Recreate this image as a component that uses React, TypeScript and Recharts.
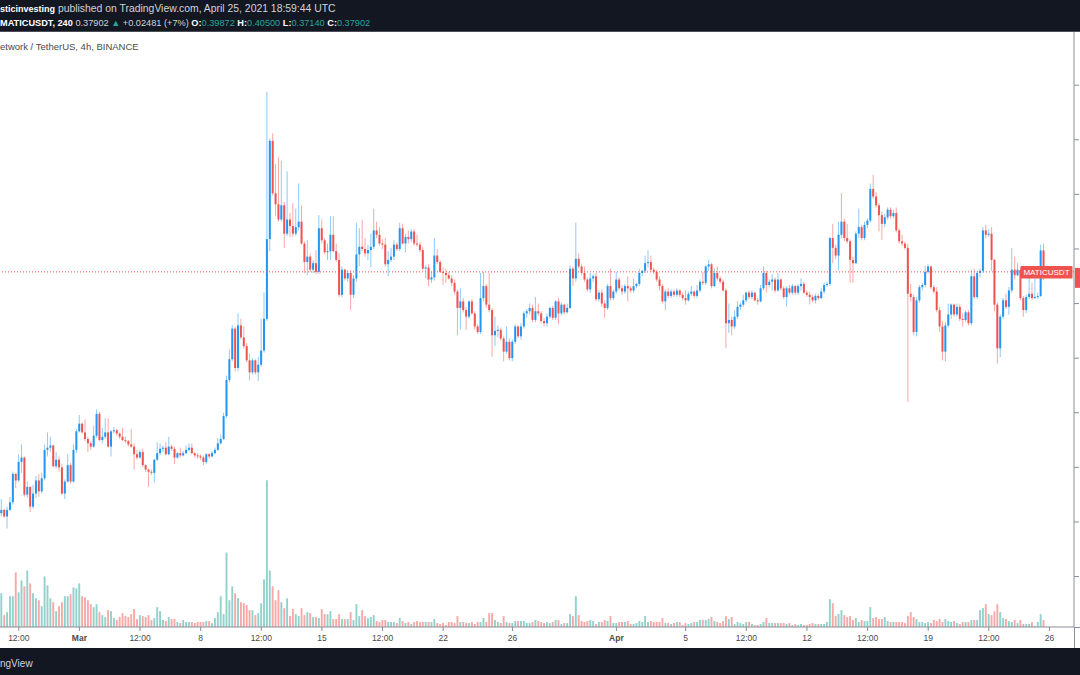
import React from 'react';
import { ComposedChart, Bar, XAxis, YAxis, ReferenceLine } from 'recharts';

// MATICUSDT 4h candles, Feb 24 12:00 -> Apr 25 16:00
const OPEN = [
  .158,.161,.155,.161,.168,.194,.188,.205,.209,.175,
  .182,.164,.176,.188,.178,.190,.216,.218,.220,.201,
  .207,.200,.176,.187,.202,.187,.216,.233,.240,.232,
  .226,.222,.219,.229,.249,.225,.228,.232,.219,.233,
  .234,.231,.228,.225,.224,.221,.219,.212,.209,.214,
  .202,.198,.196,.195,.207,.213,.217,.218,.212,.219,
  .217,.209,.213,.211,.213,.216,.218,.213,.211,.210,
  .209,.205,.212,.210,.213,.216,.222,.226,.247,.280,
  .299,.327,.291,.330,.319,.311,.298,.287,.298,.287,
  .294,.307,.336,.409,.499,.451,.441,.427,.440,.414,
  .427,.421,.414,.420,.425,.405,.388,.393,.381,.387,
  .379,.419,.408,.397,.398,.413,.398,.390,.358,.381,
  .373,.378,.358,.373,.395,.402,.400,.396,.399,.402,
  .417,.413,.405,.404,.386,.390,.393,.404,.400,.419,
  .405,.411,.409,.416,.405,.404,.399,.382,.383,.372,
  .374,.394,.388,.379,.378,.376,.373,.369,.361,.346,
  .352,.344,.338,.352,.341,.329,.324,.355,.366,.349,
  .344,.321,.325,.326,.318,.306,.315,.300,.315,.329,
  .320,.329,.341,.343,.346,.335,.343,.341,.334,.332,
  .338,.346,.337,.352,.341,.349,.342,.346,.382,.373,
  .391,.384,.378,.372,.363,.373,.375,.354,.360,.350,
  .346,.366,.355,.361,.372,.364,.361,.366,.364,.362,
  .366,.368,.378,.380,.387,.388,.381,.379,.372,.366,
  .352,.361,.357,.361,.358,.362,.358,.355,.353,.359,
  .361,.357,.362,.370,.369,.384,.386,.366,.378,.373,
  .370,.362,.332,.335,.329,.338,.347,.349,.353,.360,
  .356,.360,.353,.352,.364,.378,.367,.370,.372,.362,
  .372,.364,.356,.364,.360,.366,.360,.366,.368,.360,
  .358,.356,.353,.357,.355,.361,.367,.368,.410,.401,
  .394,.413,.425,.410,.407,.390,.387,.414,.420,.410,
  .422,.426,.455,.448,.440,.431,.423,.429,.436,.430,
  .433,.417,.407,.405,.401,.359,.356,.324,.353,.365,
  .367,.379,.384,.365,.361,.344,.329,.306,.330,.340,
  .349,.340,.347,.336,.335,.342,.332,.375,.356,.378,
  .380,.417,.413,.414,.390,.349,.309,.338,.353,.347,
  .362,.381,.376,.381,.355,.344,.356,.359,.355,.356,
  .357,.39872,
];
const HIGH = [
  .171,.162,.164,.173,.196,.195,.212,.221,.210,.187,
  .183,.184,.192,.194,.195,.221,.232,.228,.221,.214,
  .210,.203,.189,.212,.204,.221,.235,.248,.241,.244,
  .228,.224,.238,.253,.251,.236,.245,.245,.234,.237,
  .235,.232,.236,.228,.225,.235,.222,.216,.216,.217,
  .203,.199,.198,.208,.223,.222,.220,.223,.228,.221,
  .219,.214,.218,.215,.220,.222,.222,.214,.213,.212,
  .211,.213,.213,.215,.218,.227,.230,.250,.284,.308,
  .330,.329,.341,.336,.329,.314,.304,.300,.299,.301,
  .336,.360,.544,.501,.506,.478,.484,.481,.443,.471,
  .433,.442,.437,.460,.440,.407,.408,.396,.390,.399,
  .431,.427,.410,.405,.430,.430,.405,.396,.384,.382,
  .381,.381,.376,.424,.419,.427,.410,.404,.414,.437,
  .425,.420,.409,.410,.398,.401,.408,.406,.424,.423,
  .414,.417,.418,.418,.413,.406,.402,.385,.386,.379,
  .410,.400,.390,.383,.382,.379,.376,.372,.363,.364,
  .355,.347,.353,.354,.343,.331,.378,.379,.368,.378,
  .346,.338,.330,.328,.320,.329,.318,.317,.331,.330,
  .332,.343,.345,.350,.349,.356,.350,.343,.337,.341,
  .347,.348,.353,.355,.351,.350,.350,.385,.384,.424,
  .396,.386,.384,.374,.378,.377,.378,.362,.363,.353,
  .368,.382,.363,.379,.374,.367,.368,.375,.366,.373,
  .369,.382,.381,.394,.399,.394,.383,.381,.375,.368,
  .363,.364,.363,.363,.364,.363,.360,.362,.361,.366,
  .362,.367,.372,.379,.385,.390,.387,.382,.384,.375,
  .372,.364,.350,.338,.344,.352,.351,.358,.361,.362,
  .362,.361,.355,.367,.384,.380,.372,.377,.374,.378,
  .373,.366,.366,.367,.368,.367,.368,.373,.370,.362,
  .361,.358,.359,.359,.364,.369,.370,.411,.423,.404,
  .425,.451,.428,.423,.409,.393,.416,.437,.422,.425,
  .428,.460,.468,.452,.442,.434,.432,.438,.438,.436,
  .438,.419,.413,.407,.405,.368,.358,.356,.367,.369,
  .385,.386,.385,.367,.365,.347,.334,.333,.350,.350,
  .350,.350,.350,.341,.344,.344,.381,.382,.380,.382,
  .420,.422,.418,.420,.391,.351,.340,.355,.359,.365,
  .401,.393,.387,.383,.357,.358,.378,.369,.378,.360,
  .404,.405,
];
const LOW = [
  .155,.154,.144,.160,.166,.181,.187,.195,.173,.172,
  .159,.162,.172,.173,.176,.188,.210,.214,.200,.199,
  .196,.175,.171,.186,.185,.186,.213,.232,.231,.224,
  .214,.216,.218,.227,.224,.222,.226,.218,.210,.231,
  .229,.226,.224,.222,.219,.218,.198,.207,.208,.200,
  .196,.182,.193,.186,.206,.211,.214,.211,.211,.215,
  .203,.208,.209,.210,.212,.215,.212,.209,.208,.207,
  .202,.203,.208,.209,.212,.215,.221,.225,.245,.278,
  .297,.288,.288,.317,.309,.296,.280,.285,.285,.279,
  .292,.305,.334,.398,.449,.430,.425,.425,.401,.412,
  .411,.411,.412,.417,.404,.378,.376,.379,.378,.377,
  .377,.405,.395,.390,.390,.397,.388,.356,.356,.371,
  .370,.344,.355,.370,.384,.398,.393,.390,.383,.400,
  .410,.403,.400,.384,.375,.388,.390,.398,.398,.404,
  .397,.405,.406,.403,.402,.397,.380,.373,.366,.369,
  .371,.386,.378,.367,.369,.372,.366,.358,.321,.326,
  .342,.326,.336,.340,.326,.322,.322,.352,.346,.342,
  .301,.311,.319,.316,.297,.304,.298,.297,.313,.318,
  .317,.327,.337,.340,.333,.333,.339,.332,.329,.329,
  .336,.335,.335,.331,.339,.340,.341,.345,.366,.370,
  .382,.376,.370,.361,.360,.370,.352,.352,.347,.337,
  .344,.353,.353,.359,.362,.358,.359,.352,.360,.360,
  .364,.366,.375,.378,.383,.379,.377,.370,.362,.350,
  .344,.355,.355,.356,.356,.356,.353,.349,.352,.357,
  .355,.355,.360,.367,.367,.380,.364,.365,.371,.368,
  .361,.309,.323,.321,.327,.336,.344,.347,.351,.354,
  .354,.352,.349,.351,.362,.360,.365,.362,.360,.361,
  .362,.354,.347,.358,.358,.358,.358,.362,.359,.356,
  .349,.351,.350,.353,.354,.359,.365,.366,.387,.391,
  .381,.410,.407,.405,.369,.369,.386,.410,.408,.408,
  .419,.424,.446,.438,.416,.408,.420,.427,.428,.428,
  .415,.405,.403,.399,.260,.352,.321,.320,.351,.362,
  .365,.377,.363,.359,.342,.324,.298,.297,.328,.336,
  .338,.338,.334,.329,.333,.330,.330,.354,.354,.374,
  .378,.410,.411,.380,.343,.295,.301,.336,.345,.340,
  .360,.372,.375,.353,.338,.341,.354,.353,.354,.354,
  .356,.3714,
];
const CLOSE = [
  .161,.155,.161,.168,.194,.188,.205,.209,.175,.182,
  .164,.176,.188,.178,.190,.216,.218,.220,.201,.207,
  .200,.176,.187,.202,.187,.216,.233,.240,.232,.226,
  .222,.219,.229,.249,.225,.228,.232,.219,.233,.234,
  .231,.228,.225,.224,.221,.219,.212,.209,.214,.202,
  .198,.196,.195,.207,.213,.217,.218,.212,.219,.217,
  .209,.213,.211,.213,.216,.218,.213,.211,.210,.209,
  .205,.212,.210,.213,.216,.222,.226,.247,.280,.299,
  .327,.291,.330,.319,.311,.298,.287,.298,.287,.294,
  .307,.336,.409,.499,.451,.441,.427,.440,.414,.427,
  .421,.414,.420,.425,.405,.388,.393,.381,.387,.379,
  .419,.408,.397,.398,.413,.398,.390,.358,.381,.373,
  .378,.358,.373,.395,.402,.400,.396,.399,.402,.417,
  .413,.405,.404,.386,.390,.393,.404,.400,.419,.405,
  .411,.409,.416,.405,.404,.399,.382,.383,.372,.374,
  .394,.388,.379,.378,.376,.373,.369,.361,.346,.352,
  .344,.338,.352,.341,.329,.324,.355,.366,.349,.344,
  .321,.325,.326,.318,.306,.315,.300,.315,.329,.320,
  .329,.341,.343,.346,.335,.343,.341,.334,.332,.338,
  .346,.337,.352,.341,.349,.342,.346,.382,.373,.391,
  .384,.378,.372,.363,.373,.375,.354,.360,.350,.346,
  .366,.355,.361,.372,.364,.361,.366,.364,.362,.366,
  .368,.378,.380,.387,.388,.381,.379,.372,.366,.352,
  .361,.357,.361,.358,.362,.358,.355,.353,.359,.361,
  .357,.362,.370,.369,.384,.386,.366,.378,.373,.370,
  .362,.332,.335,.329,.338,.347,.349,.353,.360,.356,
  .360,.353,.352,.364,.378,.367,.370,.372,.362,.372,
  .364,.356,.364,.360,.366,.360,.366,.368,.360,.358,
  .356,.353,.357,.355,.361,.367,.368,.410,.401,.394,
  .413,.425,.410,.407,.390,.387,.414,.420,.410,.422,
  .426,.455,.448,.440,.431,.423,.429,.436,.430,.433,
  .417,.407,.405,.401,.359,.356,.324,.353,.365,.367,
  .379,.384,.365,.361,.344,.329,.306,.330,.340,.349,
  .340,.347,.336,.335,.342,.332,.375,.356,.378,.380,
  .417,.413,.414,.390,.349,.309,.338,.353,.347,.362,
  .381,.376,.381,.355,.344,.356,.359,.355,.356,.357,
  .39872,.37902,
];
// volume, millions of MATIC
const VOLUME = [
  34,12,15,31,31,55,35,47,41,57, 44,34,29,27,21,51,42,29,25,16,
  21,25,31,31,33,40,39,44,31,30, 27,23,20,23,15,12,10,17,16,9,
  7,10,14,11,10,13,18,8,12,11, 10,12,7,9,20,16,7,6,10,8,
  8,5,4,7,5,5,5,4,5,5, 5,6,6,4,9,15,31,13,75,27,
  41,34,29,25,24,22,17,17,12,14, 24,48,148,57,41,27,37,25,19,29,
  11,18,13,11,19,12,15,14,10,10, 9,18,13,13,16,8,8,13,8,8,
  8,15,7,23,
  11,17,11,9,10,12,6,5,7,7, 5,5,5,4,9,6,4,5,3,5,
  6,5,5,5,5,5,8,4,3,4, 2,5,5,4,11,5,5,4,4,5,
  3,5,5,9,5,14,14,7,5,4, 11,5,4,4,6,6,6,6,4,4,
  5,7,6,5,4,5,4,5,7,7, 3,4,4,13,11,31,12,6,5,6,
  7,6,3,5,5,7,6,11,4,4, 5,5,5,6,3,3,4,6,5,11,
  5,6,5,5,5,9,4,4,3,4, 5,5,2,4,3,4,5,5,7,7,
  7,8,10,6,5,
  4,6,11,8,10,3,5,4,3,5, 5,3,2,2,3,5,9,4,4,4,
  4,4,4,3,4,2,3,2,3,2, 2,3,4,3,3,3,3,5,28,24,
  11,13,17,12,10,11,7,9,5,7, 6,6,20,9,10,8,8,10,6,5,
  5,5,5,5,4,11,15,10,8,5, 5,4,5,4,7,6,8,5,8,6,
  5,6,4,3,5,5,5,7,7,7, 17,19,23,13,12,16,23,15,9,8,
  6,5,7,4,7,3,3,3,5,1, 5,13,7,
];

const TICK_INDEX = [6, 27, 48, 69, 90, 111, 132, 153, 177, 213, 237, 258, 279, 300, 321, 342, 363];
const TICK_TEXT = ['12:00', 'Mar', '12:00', '8', '12:00', '15', '12:00', '22', '26', 'Apr', '5', '12:00', '12', '12:00', '19', '12:00', '26'];
const MONTHS = ['Mar', 'Apr'];
const PRICE_TICKS = [0.1, 0.15, 0.2, 0.25, 0.3, 0.35, 0.4, 0.45, 0.5, 0.55];
const LAST_PRICE = 0.37902;
const SYMBOL = 'MATICUSDT';
const EMPTY_SLOTS = 10; // blank space right of the last candle

const UP = '#2196f3';
const DOWN = '#ef5350';
const VOL_UP = '#26a69a';
const AXIS = '#8a8e97';
const FONT = '"Liberation Sans", Arial, sans-serif';

const N = Math.min(OPEN.length, HIGH.length, LOW.length, CLOSE.length, VOLUME.length);
const rows = Array.from({ length: N + EMPTY_SLOTS }, (_, i) =>
    i < N ? { i, o: OPEN[i], h: HIGH[i], l: LOW[i], c: CLOSE[i], v: VOLUME[i] } : { i } as any
);

const Candle = (props: any) => {
    const { x, y, width, height, payload } = props;
    if (!payload || payload.h == null || !isFinite(y)) return null;
    const { o, h, l, c } = payload;
    const top = Math.min(y, y + height);
    const span = Math.abs(height);
    const k = span / (h - l);
    const cx = x + width / 2;
    const bTop = top + (h - Math.max(o, c)) * k;
    const bBot = top + (h - Math.min(o, c)) * k;
    const color = c >= o ? UP : DOWN;
    return (
        <g>
            <line x1={cx} x2={cx} y1={top} y2={top + span} stroke={color} strokeOpacity={0.5} strokeWidth={1} />
            <rect x={cx - 1} y={bTop} width={2} height={Math.max(1, bBot - bTop)} fill={color} />
        </g>
    );
};

const VolumeBar = (props: any) => {
    const { x, y, width, height, payload } = props;
    if (!payload || payload.v == null || !isFinite(y)) return null;
    const up = payload.c >= payload.o;
    return (
        <rect x={x + width / 2 - 0.95} y={y} width={1.9} height={Math.max(0, height)}
            fill={up ? VOL_UP : DOWN} fillOpacity={0.5} />
    );
};

const DateTick = ({ x, y, payload }: any) => {
    const label = TICK_TEXT[TICK_INDEX.indexOf(payload.value)];
    return (
        <text x={x} y={y} dy={8} textAnchor="middle" fontSize={8.5} fontFamily={FONT}
            fontWeight={MONTHS.includes(label) ? 700 : 400} fill="#4a4a4a">
            {label}
        </text>
    );
};

// the price labels sit past the right edge of the snapshot, only the tick marks show
const NoLabel = () => <g />;

// "MATICUSDT" tag on the line plus the edge of the price box on the scale
const LastPriceTag = (props: any) => {
    const vb = props.viewBox || {};
    const right = vb.x + vb.width;
    const y = vb.y;
    return (
        <g>
            <rect x={right - 53.5} y={y - 6} width={52} height={12.5} fill={DOWN} rx={1} />
            <text x={right - 27.5} y={y + 3.2} textAnchor="middle" fontSize={8} fontFamily={FONT} fill="#fff">
                {SYMBOL}
            </text>
            <rect x={right + 1} y={y - 4} width={56} height={20} fill={DOWN} />
        </g>
    );
};

export default function App() {
    return (
        <div style={{ position: 'relative', width: 1080, height: 675, overflow: 'hidden', background: '#fff', fontFamily: FONT }}>
            <style>{'body{margin:0}'}</style>

            {/* header bar */}
            <div style={{ position: 'absolute', left: 0, top: 0, width: 1080, height: 32, background: '#131722', borderBottom: '1px solid #4a4e59', boxSizing: 'border-box' }}>
                <div style={{ position: 'absolute', left: 0, top: 3, fontSize: 10.4, lineHeight: '12px', color: '#d1d4dc', whiteSpace: 'nowrap' }}>
                    <b style={{ color: '#fff', fontSize: 9 }}>sticinvesting</b> published on TradingView.com, April 25, 2021 18:59:44 UTC
                </div>
                <div style={{ position: 'absolute', left: 0, top: 17, fontSize: 9.2, lineHeight: '12px', color: '#d1d4dc', whiteSpace: 'nowrap' }}>
                    <b style={{ color: '#fff' }}>MATICUSDT, 240</b>{' '}0.37902{' '}
                    <span style={{ color: VOL_UP }}>▲</span>{' '}+0.02481 (+7%){' '}
                    <b style={{ color: '#fff' }}>O:</b><span style={{ color: VOL_UP }}>0.39872</span>{' '}
                    <b style={{ color: '#fff' }}>H:</b><span style={{ color: VOL_UP }}>0.40500</span>{' '}
                    <b style={{ color: '#fff' }}>L:</b><span style={{ color: VOL_UP }}>0.37140</span>{' '}
                    <b style={{ color: '#fff' }}>C:</b><span style={{ color: VOL_UP }}>0.37902</span>
                </div>
            </div>

            <div style={{ position: 'absolute', left: 0, top: 41, fontSize: 9.5, lineHeight: '12px', color: '#4a4a4a', whiteSpace: 'nowrap' }}>
                etwork / TetherUS, 4h, BINANCE
            </div>

            {/* volume pane, behind the candles */}
            <div style={{ position: 'absolute', left: 0, top: 32 }}>
                <ComposedChart width={1074} height={595} data={rows} margin={{ top: 0, right: 0, bottom: 0, left: 0 }}>
                    <XAxis dataKey="i" type="category" hide />
                    <YAxis hide domain={[0, 600]} allowDataOverflow />
                    <Bar dataKey="v" shape={<VolumeBar />} isAnimationActive={false} />
                </ComposedChart>
            </div>

            {/* price pane */}
            <div style={{ position: 'absolute', left: 0, top: 32 }}>
                <ComposedChart width={1134} height={616} data={rows} margin={{ top: 0, right: 0, bottom: 0, left: 0 }}>
                    <XAxis
                        dataKey="i"
                        type="category"
                        ticks={TICK_INDEX}
                        interval={0}
                        height={21}
                        tick={<DateTick />}
                        tickSize={4}
                        axisLine={{ stroke: AXIS }}
                        tickLine={{ stroke: AXIS }}
                    />
                    <YAxis
                        yAxisId="p"
                        orientation="right"
                        width={60}
                        domain={[0.0538, 0.5987]}
                        allowDataOverflow
                        ticks={PRICE_TICKS}
                        tickSize={5}
                        axisLine={{ stroke: AXIS }}
                        tickLine={{ stroke: AXIS }}
                        tick={<NoLabel />}
                    />
                    <Bar
                        yAxisId="p"
                        dataKey={(d: any) => (d.h == null ? null : [d.l, d.h])}
                        shape={<Candle />}
                        isAnimationActive={false}
                    />
                    <ReferenceLine
                        yAxisId="p"
                        y={LAST_PRICE}
                        stroke={DOWN}
                        strokeDasharray="1 2"
                        label={<LastPriceTag />}
                    />
                </ComposedChart>
            </div>

            {/* scale corner pieces */}
            <div style={{ position: 'absolute', left: 1074, top: 627, width: 1, height: 21, background: AXIS }} />
            <div style={{ position: 'absolute', left: 1074, top: 627, width: 6, height: 1, background: AXIS }} />

            {/* footer bar */}
            <div style={{ position: 'absolute', left: 0, top: 648, width: 1080, height: 27, background: '#131722' }}>
                <div style={{ position: 'absolute', left: 0, top: 9, fontSize: 10, lineHeight: '13px', color: '#d1d4dc' }}>ngView</div>
            </div>
        </div>
    );
}
